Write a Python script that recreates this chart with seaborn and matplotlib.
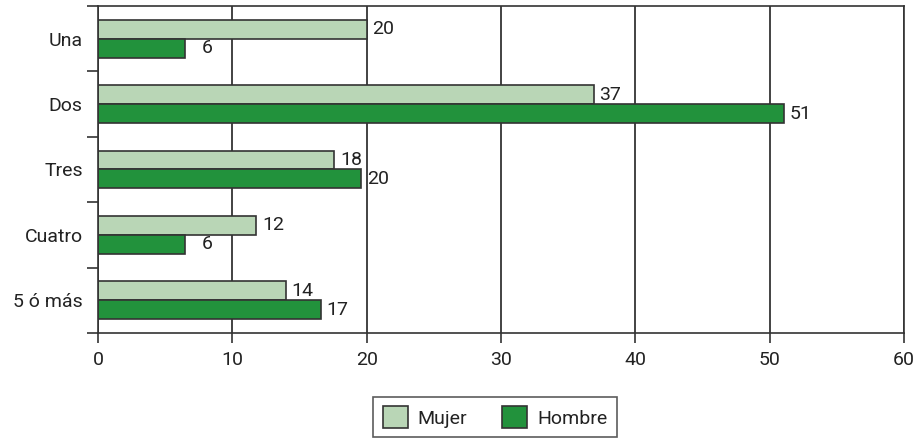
import numpy as np
import pandas as pd
import matplotlib
matplotlib.use("Agg")
import matplotlib.pyplot as plt
import seaborn as sns

# values; labels as printed on the chart
categorias = ["Una", "Dos", "Tres", "Cuatro", "5 ó más"]
mujer = [20.0, 36.9, 17.6, 11.8, 14.0]
hombre = [6.5, 51.1, 19.6, 6.5, 16.6]
etiq_mujer = [20, 37, 18, 12, 14]
etiq_hombre = [6, 51, 20, 6, 17]
series = ["Mujer", "Hombre"]
colores = ["#b9d6b6", "#22923c"]

df = pd.DataFrame({
    "categoria": categorias * 2,
    "valor": mujer + hombre,
    "sexo": ["Mujer"] * len(categorias) + ["Hombre"] * len(categorias),
})

sns.set_theme(style="white")
plt.rcParams["font.family"] = ["Roboto", "DejaVu Sans"]
plt.rcParams["font.size"] = 14

fig = plt.figure(figsize=(9.19, 4.40), dpi=100)
ax = fig.add_axes([0.1066, 0.2432, 0.8771, 0.7432])

sns.barplot(data=df, y="categoria", x="valor", hue="sexo", hue_order=series,
            palette=colores, saturation=1, order=categorias, orient="h",
            width=0.58, gap=0, edgecolor="#333333", linewidth=1.2, ax=ax,
            legend=True)

for cont, etiq in zip(ax.containers, [etiq_mujer, etiq_hombre]):
    ax.bar_label(cont, labels=[f"{e:\u2007>2}" for e in etiq], padding=4,
                 fontsize=14, color="#222222")

ax.set_xlim(0, 60)
ax.set_ylim(len(categorias) - 0.5, -0.5)
ax.set_xticks(np.arange(0, 61, 10))
ax.tick_params(axis="x", labelsize=14, length=7, width=1.2, color="#333333",
               direction="out", bottom=True, pad=6, labelcolor="#222222")

# category boundaries as major ticks, labels on minor ticks at centres
ax.set_yticks(np.arange(-0.5, len(categorias), 1.0))
ax.set_yticklabels([])
ax.set_yticks(np.arange(len(categorias)), minor=True)
ax.set_yticklabels(categorias, minor=True)
ax.tick_params(axis="y", which="major", length=8, width=1.2, color="#333333",
               direction="out", left=True)
ax.tick_params(axis="y", which="minor", length=0, labelsize=14, pad=11,
               labelcolor="#222222")

ax.grid(axis="x", color="#222222", linewidth=1.2)
ax.grid(axis="y", visible=False)
ax.set_axisbelow(True)
for s in ax.spines.values():
    s.set_visible(True)
    s.set_color("#333333")
    s.set_linewidth(1.2)
ax.set_xlabel("")
ax.set_ylabel("")

handles, labels = ax.get_legend_handles_labels()
leg = ax.legend(handles, labels, loc="upper center", bbox_to_anchor=(0.4925, -0.165),
                ncol=2, frameon=True, fancybox=False, fontsize=14,
                handlelength=1.3, handleheight=1.3, columnspacing=1.8,
                borderpad=0.5, handletextpad=0.5)
leg.get_frame().set_edgecolor("#333333")
leg.get_frame().set_linewidth(1.2)
for t in leg.get_texts():
    t.set_color("#222222")

fig.savefig("out.png", dpi=100)
